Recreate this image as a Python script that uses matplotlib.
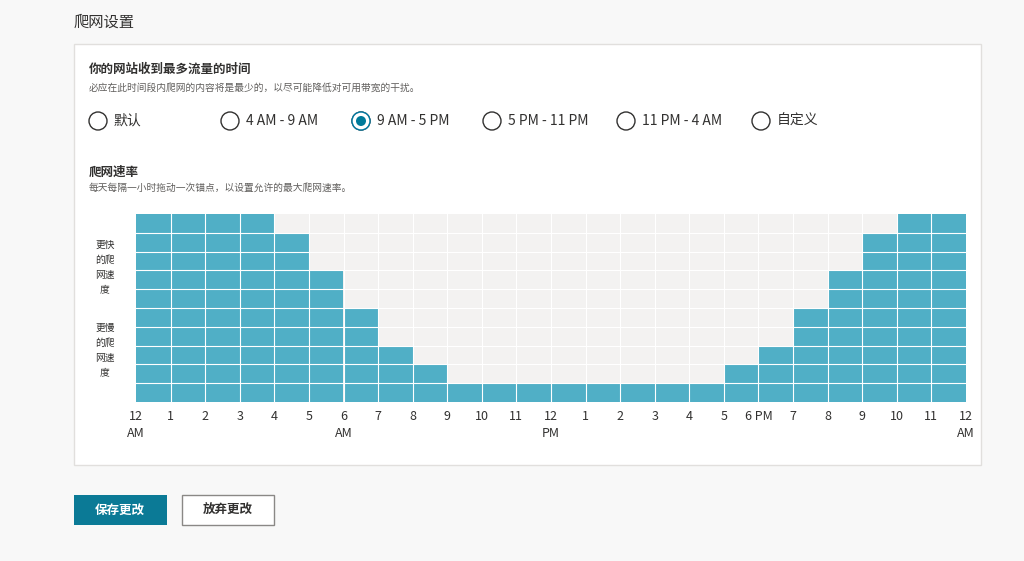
import matplotlib.pyplot as plt
from matplotlib.patches import Rectangle, Circle, FancyBboxPatch

plt.rcParams['font.family'] = ['Noto Sans CJK SC', 'DejaVu Sans']

hours = list(range(24))
rate = [10, 10, 10, 10, 9, 7, 5, 3, 2, 1, 1, 1, 1, 1, 1, 1, 1, 2, 3, 5, 7, 9, 10, 10]
hour_labels = ['12\nAM', '1', '2', '3', '4', '5', '6\nAM', '7', '8', '9', '10', '11', '12\nPM',
               '1', '2', '3', '4', '5', '6 PM', '7', '8', '9', '10', '11', '12\nAM']
options = ['默认', '4 AM - 9 AM', '9 AM - 5 PM', '5 PM - 11 PM', '11 PM - 4 AM', '自定义']
option_x = [98, 230, 361, 492, 626, 761]
selected = 2

W, H = 1024, 561
fig = plt.figure(figsize=(W / 100, H / 100), dpi=100)
fig.patch.set_facecolor('#f8f8f8')

# page layer in pixel coordinates
ui = fig.add_axes([0, 0, 1, 1])
ui.set_xlim(0, W)
ui.set_ylim(H, 0)
ui.axis('off')

ui.add_patch(Rectangle((74, 44), 907, 421, facecolor='white', edgecolor='#e1dfdd', lw=1))
ui.text(74, 22, '爬网设置', fontsize=11, color='#323130', va='center')
ui.text(89, 69, '你的网站收到最多流量的时间', fontsize=9, weight='bold', color='#323130', va='center')
ui.text(89, 88, '必应在此时间段内爬网的内容将是最少的，以尽可能降低对可用带宽的干扰。', fontsize=7, color='#605e5c', va='center')
for i, (lab, x) in enumerate(zip(options, option_x)):
    ui.add_patch(Circle((x, 121), 9, facecolor='white', edgecolor='#323130', lw=1))
    if i == selected:
        ui.add_patch(Circle((x, 121), 9, facecolor='white', edgecolor='#0078a0', lw=1))
        ui.add_patch(Circle((x, 121), 5, facecolor='#007a9a', edgecolor='none'))
    ui.text(x + 16, 121, lab, fontsize=10, color='#323130', va='center')
ui.text(89, 172, '爬网速率', fontsize=9, weight='bold', color='#323130', va='center')
ui.text(89, 188, '每天每隔一小时拖动一次锚点，以设置允许的最大爬网速率。', fontsize=7, color='#605e5c', va='center')
ui.text(105, 267, '更快\n的爬\n网速\n度', fontsize=7, color='#323130', ha='center', va='center', linespacing=1.6)
ui.text(105, 350, '更慢\n的爬\n网速\n度', fontsize=7, color='#323130', ha='center', va='center', linespacing=1.6)

ui.add_patch(Rectangle((74, 495), 93, 30, facecolor='#0b7a96', edgecolor='none'))
ui.text(120, 510, '保存更改', fontsize=9, weight='bold', color='white', ha='center', va='center')
ui.add_patch(Rectangle((182, 495), 92, 30, facecolor='white', edgecolor='#8a8886', lw=1))
ui.text(228, 510, '放弃更改', fontsize=9, weight='bold', color='#323130', ha='center', va='center')

# chart
ax = fig.add_axes([136 / W, (H - 402) / H, 830 / W, 188 / H])
ax.set_facecolor('#f3f2f1')
ax.bar(hours, rate, width=1, align='edge', color='#50afc6', zorder=1)
ax.set_xlim(0, 24)
ax.set_ylim(0, 10)
for i in range(1, 24):
    ax.axvline(i, color='white', lw=0.8, zorder=2)
for j in range(1, 10):
    ax.axhline(j, color='white', lw=0.8, zorder=2)
for s in ax.spines.values():
    s.set_visible(False)
ax.set_yticks([])
ax.set_xticks(range(25))
ax.set_xticklabels(hour_labels, fontsize=9, color='#323130', linespacing=1.4, va='top')
ax.tick_params(axis='x', length=0, pad=6)

fig.savefig('out.png', dpi=100, facecolor=fig.get_facecolor())
